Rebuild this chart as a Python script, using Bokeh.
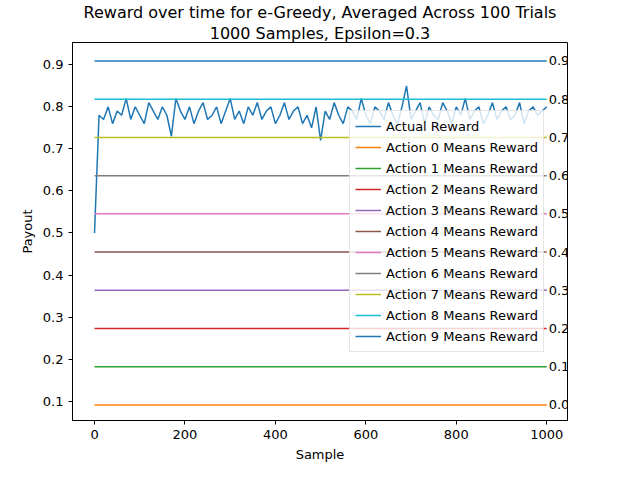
from bokeh.plotting import figure
from bokeh.models import Title, Label, Legend, LegendItem, FixedTicker
from bokeh.embed import file_html
from bokeh.resources import INLINE

# actual reward, read roughly every 10 samples
samples = list(range(0, 1001, 10))
reward = [0.50, 0.78, 0.77, 0.80, 0.76, 0.79, 0.78, 0.82, 0.77, 0.80,
          0.78, 0.76, 0.81, 0.79, 0.77, 0.80, 0.78, 0.73, 0.82, 0.79,
          0.77, 0.80, 0.76, 0.79, 0.81, 0.77, 0.78, 0.80, 0.76, 0.79,
          0.82, 0.77, 0.79, 0.76, 0.80, 0.78, 0.81, 0.77, 0.79, 0.80,
          0.76, 0.78, 0.81, 0.77, 0.79, 0.80, 0.76, 0.78, 0.75, 0.80,
          0.72, 0.79, 0.77, 0.81, 0.78, 0.76, 0.80, 0.79, 0.77, 0.82,
          0.78, 0.76, 0.80, 0.79, 0.77, 0.81, 0.78, 0.76, 0.80, 0.85,
          0.77, 0.79, 0.81, 0.76, 0.80, 0.78, 0.77, 0.81, 0.79, 0.76,
          0.80, 0.78, 0.82, 0.77, 0.79, 0.80, 0.76, 0.78, 0.81, 0.77,
          0.79, 0.80, 0.77, 0.78, 0.81, 0.76, 0.79, 0.80, 0.78, 0.79, 0.80]
action_means = [1/11, 2/11, 3/11, 4/11, 5/11, 6/11, 7/11, 8/11, 9/11, 10/11]
colors = ["#ff7f0e", "#2ca02c", "#d62728", "#9467bd", "#8c564b",
          "#e377c2", "#7f7f7f", "#bcbd22", "#17becf", "#1f77b4"]
FONT = "DejaVu Sans"

p = figure(width=632, height=464, output_backend="svg", toolbar_location=None,
           x_range=(-48.7, 1046), y_range=(0.054, 0.953),
           min_border_left=72, min_border_right=65, min_border_bottom=44,
           min_border_top=5, title=None)
p.add_layout(Title(text="1000 Samples, Epsilon=0.3", align="center", standoff=0,
                   text_font=FONT, text_font_size="16px", text_font_style="normal",
                   text_color="black"), "above")
p.add_layout(Title(text="Reward over time for e-Greedy, Averaged Across 100 Trials", align="center",
                   standoff=0, text_font=FONT, text_font_size="16px", text_font_style="normal",
                   text_color="black"), "above")
p.xgrid.visible = False
p.ygrid.visible = False
p.outline_line_color = "black"
p.xaxis.axis_label = "Sample"
p.yaxis.axis_label = "Payout"
p.xaxis.ticker = FixedTicker(ticks=[0, 200, 400, 600, 800, 1000])
p.yaxis.ticker = FixedTicker(ticks=[0.1, 0.2, 0.3, 0.4, 0.5, 0.6, 0.7, 0.8, 0.9])
for ax in (p.xaxis, p.yaxis):
    ax.axis_label_text_font = FONT
    ax.axis_label_text_font_style = "normal"
    ax.axis_label_text_font_size = "13px"
    ax.axis_label_text_color = "black"
    ax.major_label_text_font = FONT
    ax.major_label_text_font_size = "13px"
    ax.major_label_text_color = "black"
    ax.axis_line_color = "black"
    ax.major_tick_line_color = "black"
    ax.minor_tick_line_color = None
    ax.major_tick_out = 4
    ax.major_tick_in = 0

items = []
r = p.line(samples, reward, line_color="#1f77b4", line_width=1.5)
items.append(LegendItem(label="Actual Reward", renderers=[r]))
for i, (m, c) in enumerate(zip(action_means, colors)):
    rr = p.line([0, 1000], [m, m], line_color=c, line_width=1.5)
    items.append(LegendItem(label=f"Action {i} Means Reward", renderers=[rr]))
    p.add_layout(Label(x=1000, y=m, text=repr(m), x_offset=2, text_baseline="middle",
                       text_font=FONT, text_font_size="13px", text_color="black"))

leg = Legend(items=items, location=(277, 68), label_text_font=FONT,
             label_text_font_size="13px", label_text_color="black",
             glyph_height=20, label_height=20,
             glyph_width=26, spacing=1, padding=5, margin=0,
             border_line_color="#cccccc", background_fill_alpha=0.8)
p.add_layout(leg)

open("out.html", "w").write(file_html(p, INLINE))
